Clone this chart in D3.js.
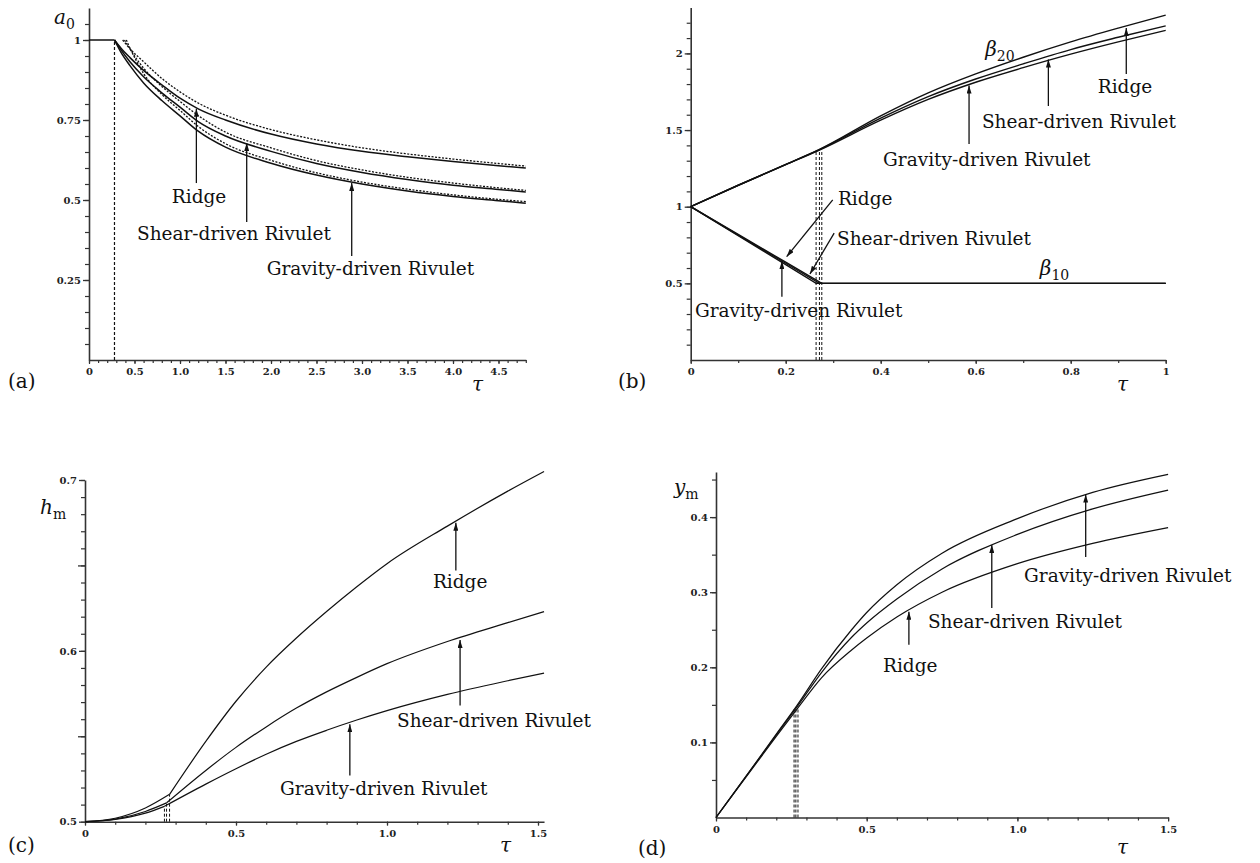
<!DOCTYPE html>
<meta charset="utf-8">
<title>Ridge and rivulet evolution</title>
<script src="https://d3js.org/d3.v7.min.js"></script>
<style>
body { margin: 0; background: #fff; }
text { font-family: "DejaVu Serif", serif; fill: #111; }
.tick text { font-size: 10px; font-weight: bold; font-family: "DejaVu Serif", serif; fill: #222; }
.note { font-size: 18.5px; }
.math { font-style: italic; font-size: 20px; }
.plab { font-size: 20px; }
.axis path, .axis line { stroke: #333; }
</style>
<body>
<svg id="fig" width="1260" height="863"></svg>
<script>
// ---------- values ----------

// (a) a0 against tau: solid curves and dashed curves
var tauAFlat = [0, 0.28];
var a0Flat = [1, 1];
var tauA = [0.28, 0.35, 0.45, 0.6, 0.8, 1.0, 1.2, 1.5, 2.0, 2.5, 3.0, 3.5, 4.0, 4.5, 4.8];
var a0Ridge   = [1, 0.975, 0.945, 0.905, 0.86, 0.818, 0.785, 0.750, 0.706, 0.675, 0.652, 0.635, 0.620, 0.607, 0.600];
var a0Shear   = [1, 0.970, 0.932, 0.885, 0.835, 0.790, 0.745, 0.700, 0.652, 0.614, 0.586, 0.564, 0.546, 0.533, 0.525];
var a0Gravity = [1, 0.962, 0.920, 0.866, 0.811, 0.763, 0.715, 0.665, 0.615, 0.578, 0.550, 0.528, 0.511, 0.498, 0.490];
var tauAd = [0.45, 0.6, 0.8, 1.0, 1.2, 1.5, 2.0, 2.5, 3.0, 3.5, 4.0, 4.5, 4.8];
var startRidgeD = 0.37, startShearD = 0.39, startGravityD = 0.41;
var a0RidgeD   = [0.973, 0.932, 0.880, 0.838, 0.803, 0.765, 0.720, 0.688, 0.663, 0.644, 0.628, 0.614, 0.606];
var a0ShearD   = [0.972, 0.912, 0.855, 0.808, 0.764, 0.712, 0.663, 0.623, 0.594, 0.571, 0.553, 0.538, 0.530];
var a0GravityD = [0.975, 0.895, 0.830, 0.780, 0.730, 0.676, 0.624, 0.585, 0.556, 0.534, 0.516, 0.502, 0.495];
var tauAVert = 0.28;

// (b) beta20 (upper) and beta10 (lower) against tau
var tauB = [0, 0.1, 0.2, 0.27, 0.4, 0.5, 0.6, 0.7, 0.8, 0.9, 1.0];
var b20Ridge   = [1, 1.140, 1.276, 1.372, 1.592, 1.742, 1.866, 1.975, 2.075, 2.165, 2.25];
var b20Shear   = [1, 1.140, 1.275, 1.370, 1.578, 1.718, 1.833, 1.932, 2.025, 2.105, 2.18];
var b20Gravity = [1, 1.139, 1.274, 1.368, 1.565, 1.700, 1.812, 1.907, 1.995, 2.075, 2.15];
var tauB10Ridge = [0, 0.1, 0.2, 0.276, 1.0];
var tauB10Shear = [0, 0.1, 0.2, 0.271, 1.0];
var tauB10Gravity = [0, 0.1, 0.2, 0.264, 1.0];
var b10Ridge   = [1, 0.819, 0.638, 0.5, 0.5];
var b10Shear   = [1, 0.815, 0.631, 0.5, 0.5];
var b10Gravity = [1, 0.811, 0.622, 0.5, 0.5];
var tauBVert = [0.264, 0.271, 0.276];
var bVertTop = 1.37;

// (c) h_m against tau (kink at the switch time)
var tauCRidge   = [0, 0.1, 0.2, 0.28, 0.4, 0.5, 0.6, 0.7, 0.8, 0.9, 1.0, 1.2, 1.4, 1.52];
var tauCShear   = [0, 0.1, 0.2, 0.27, 0.4, 0.5, 0.6, 0.7, 0.8, 0.9, 1.0, 1.2, 1.4, 1.52];
var tauCGravity = [0, 0.1, 0.2, 0.263, 0.4, 0.5, 0.6, 0.7, 0.8, 0.9, 1.0, 1.2, 1.4, 1.52];
var hRidge   = [0.5, 0.502, 0.508, 0.516, 0.547, 0.5705, 0.5905, 0.6075, 0.623, 0.6375, 0.651, 0.673, 0.6935, 0.705];
var hShear   = [0.5, 0.5015, 0.506, 0.511, 0.530, 0.5435, 0.5555, 0.5665, 0.576, 0.5845, 0.5925, 0.6055, 0.6165, 0.623];
var hGravity = [0.5, 0.5013, 0.505, 0.509, 0.522, 0.531, 0.5395, 0.547, 0.5535, 0.5595, 0.565, 0.5745, 0.5825, 0.587];
var kinkC = 3;

// (d) y_m against tau
var tauD = [0, 0.1, 0.2, 0.27, 0.35, 0.45, 0.5, 0.6, 0.75, 1.0, 1.25, 1.5];
var ymGravity = [0, 0.055, 0.111, 0.150, 0.198, 0.250, 0.273, 0.310, 0.352, 0.398, 0.433, 0.457];
var ymShear   = [0, 0.055, 0.110, 0.148, 0.193, 0.240, 0.259, 0.291, 0.331, 0.377, 0.411, 0.436];
var ymRidge   = [0, 0.054, 0.108, 0.145, 0.186, 0.223, 0.239, 0.267, 0.300, 0.338, 0.365, 0.386];
var tauDVert = [0.259, 0.265, 0.272];
var dVertTop = 0.145;

// ---------- drawing ----------
var svg = d3.select("#fig");

svg.append("defs").append("marker")
    .attr("id", "head")
    .attr("markerUnits", "userSpaceOnUse")
    .attr("markerWidth", 9).attr("markerHeight", 5)
    .attr("refX", 8).attr("refY", 2.5)
    .attr("orient", "auto")
  .append("path")
    .attr("d", "M0,0 L8,2.5 L0,5 Z")
    .attr("fill", "#111");

function makePanel(xDom, xRange, yDom, yRange) {
  return {
    x: d3.scaleLinear().domain(xDom).range(xRange),
    y: d3.scaleLinear().domain(yDom).range(yRange),
    g: svg.append("g")
  };
}

var pa = makePanel([0, 4.8], [89, 89 + 4.8 * 91], [0, 1.1], [360, 360 - 1.1 * 320]);
var pb = makePanel([0, 1], [690.7, 1165.7], [0, 2.3], [360, 360 - 2.3 * 153.3]);
var pc = makePanel([0, 1.52], [85, 85 + 1.52 * 302], [0.5, 0.7], [821.7, 480]);
var pd = makePanel([0, 1.5], [716, 716 + 1.5 * 301.4], [0, 0.46], [817.5, 817.5 - 0.46 * 751]);

function range(a, b, step) {
  var out = [];
  for (var v = a; v <= b + 1e-9; v += step) out.push(+v.toFixed(4));
  return out;
}

function axes(p, xMinor, xMajor, xFmt, yMinor, yMajor, yFmt, yMid) {
  var y0 = p.y.range()[0], x0 = p.x.range()[0];
  p.g.append("g").attr("class", "axis")
      .attr("transform", "translate(0," + y0 + ")")
      .call(d3.axisBottom(p.x).tickValues(xMinor).tickSize(3).tickSizeOuter(0).tickFormat(""))
      .call(function(g) { g.select(".domain").attr("stroke-width", 1.6); g.selectAll("line").attr("stroke-width", 1.2); });
  p.g.append("g").attr("class", "axis")
      .attr("transform", "translate(0," + y0 + ")")
      .call(d3.axisBottom(p.x).tickValues(xMajor).tickSize(4).tickPadding(4).tickFormat(xFmt))
      .call(function(g) { g.select(".domain").remove(); g.selectAll("line").attr("stroke-width", 1.2); });
  p.g.append("g").attr("class", "axis")
      .attr("transform", "translate(" + x0 + ",0)")
      .call(d3.axisLeft(p.y).tickValues(yMinor).tickSize(4).tickSizeOuter(0).tickFormat(""))
      .call(function(g) { g.select(".domain").attr("stroke-width", 1.6); g.selectAll("line").attr("stroke-width", 1.2); });
  if (yMid) {
    p.g.append("g").attr("class", "axis")
        .attr("transform", "translate(" + x0 + ",0)")
        .call(d3.axisLeft(p.y).tickValues(yMid).tickSize(7).tickFormat(""))
        .call(function(g) { g.select(".domain").remove(); g.selectAll("line").attr("stroke-width", 1.3); });
  }
  p.g.append("g").attr("class", "axis")
      .attr("transform", "translate(" + x0 + ",0)")
      .call(d3.axisLeft(p.y).tickValues(yMajor).tickSize(6).tickPadding(2).tickFormat(yFmt))
      .call(function(g) { g.select(".domain").remove(); g.selectAll("line").attr("stroke-width", 1.3); });
}

function curve(p, xs, ys, opts) {
  opts = opts || {};
  var pts = xs.map(function(v, i) { return [v, ys[i]]; });
  var line = d3.line()
      .x(function(d) { return p.x(d[0]); })
      .y(function(d) { return p.y(d[1]); })
      .curve(opts.straight ? d3.curveLinear : d3.curveMonotoneX);
  p.g.append("path")
      .attr("d", line(pts))
      .attr("fill", "none")
      .attr("stroke", "#111")
      .attr("stroke-width", opts.w || 1.4)
      .attr("stroke-dasharray", opts.dash || null);
}

function vline(p, t, v0, v1, w) {
  p.g.append("line")
      .attr("x1", p.x(t)).attr("x2", p.x(t))
      .attr("y1", p.y(v0)).attr("y2", p.y(v1))
      .attr("stroke", "#111").attr("stroke-width", w || 1.2)
      .attr("stroke-dasharray", "3,2");
}

function arrow(p, t0, v0, t1, v1) {
  p.g.append("line")
      .attr("x1", p.x(t0)).attr("y1", p.y(v0))
      .attr("x2", p.x(t1)).attr("y2", p.y(v1))
      .attr("stroke", "#111").attr("stroke-width", 1.3)
      .attr("marker-end", "url(#head)");
}

function note(p, t, v, s) {
  p.g.append("text").attr("class", "note")
      .attr("x", p.x(t)).attr("y", p.y(v)).text(s);
}

function mathLabel(x, y, main, sub) {
  var t = svg.append("text").attr("x", x).attr("y", y);
  t.append("tspan").attr("class", "math").text(main);
  if (sub) t.append("tspan").attr("dy", 5).attr("font-size", 14).text(sub);
}

function panelLabel(x, y, s) {
  svg.append("text").attr("class", "plab").attr("x", x).attr("y", y).text(s);
}

// ---- (a) ----
var fmt1 = function(d) { return d === 0 ? "0" : d3.format(".1f")(d); };
axes(pa, range(0, 4.8, 0.1), range(0, 4.5, 0.5), fmt1,
     range(0.05, 1.05, 0.05), [0.25, 0.5, 0.75, 1], function(d) { return String(d); });
curve(pa, tauAFlat, a0Flat, { straight: true, w: 1.5 });
curve(pa, tauA, a0Ridge, { w: 1.5 });
curve(pa, tauA, a0Shear, { w: 1.5 });
curve(pa, tauA, a0Gravity, { w: 1.5 });
curve(pa, [startRidgeD].concat(tauAd), [1].concat(a0RidgeD), { w: 1.3, dash: "2,1.5" });
curve(pa, [startShearD].concat(tauAd), [1].concat(a0ShearD), { w: 1.3, dash: "2,1.5" });
curve(pa, [startGravityD].concat(tauAd), [1].concat(a0GravityD), { w: 1.3, dash: "2,1.5" });
vline(pa, tauAVert, 0, 1);
arrow(pa, 1.18, 0.553, 1.18, 0.785);
note(pa, 0.91, 0.49, "Ridge");
arrow(pa, 1.733, 0.431, 1.733, 0.678);
note(pa, 0.527, 0.375, "Shear-driven Rivulet");
arrow(pa, 2.887, 0.325, 2.887, 0.553);
note(pa, 1.953, 0.266, "Gravity-driven Rivulet");
mathLabel(54, 24, "a", "0");
mathLabel(472, 391, "τ");
panelLabel(8, 388, "(a)");

// ---- (b) ----
axes(pb, range(0, 1, 0.1), [0, 0.2, 0.4, 0.6, 0.8, 1], function(d) { return String(d); },
     range(0.1, 2.2, 0.1), [0.5, 1, 1.5, 2], function(d) { return String(d); });
curve(pb, tauB, b20Ridge);
curve(pb, tauB, b20Shear);
curve(pb, tauB, b20Gravity);
curve(pb, tauB10Ridge, b10Ridge, { straight: true });
curve(pb, tauB10Shear, b10Shear, { straight: true });
curve(pb, tauB10Gravity, b10Gravity, { straight: true });
tauBVert.forEach(function(t) { vline(pb, t, 0, bVertTop, 1); });
arrow(pb, 0.917, 1.866, 0.917, 2.165);
note(pb, 0.857, 1.742, "Ridge");
arrow(pb, 0.753, 1.657, 0.753, 1.96);
note(pb, 0.613, 1.513, "Shear-driven Rivulet");
arrow(pb, 0.586, 1.409, 0.586, 1.79);
note(pb, 0.405, 1.267, "Gravity-driven Rivulet");
arrow(pb, 0.299, 1.044, 0.202, 0.674);
note(pb, 0.31, 1.011, "Ridge");
arrow(pb, 0.302, 0.828, 0.251, 0.561);
note(pb, 0.308, 0.75, "Shear-driven Rivulet");
arrow(pb, 0.192, 0.413, 0.192, 0.645);
note(pb, 0.009, 0.282, "Gravity-driven Rivulet");
mathLabel(pb.x(0.62), pb.y(1.98), "β", "20");
mathLabel(pb.x(0.735), pb.y(0.556), "β", "10");
mathLabel(1117, 391, "τ");
panelLabel(618, 388, "(b)");

// ---- (c) ----
axes(pc, range(0, 1.5, 0.1), [0, 0.5, 1.0, 1.5], fmt1,
     range(0.5, 0.7, 0.01), [0.5, 0.6, 0.7], function(d) { return String(d); }, [0.55, 0.65]);
[[tauCRidge, hRidge], [tauCShear, hShear], [tauCGravity, hGravity]].forEach(function(c) {
  curve(pc, c[0].slice(0, kinkC + 1), c[1].slice(0, kinkC + 1), { w: 1.2 });
  curve(pc, c[0].slice(kinkC), c[1].slice(kinkC), { w: 1.2 });
  vline(pc, c[0][kinkC], 0.5, c[1][kinkC], 1);
});
arrow(pc, 1.228, 0.647, 1.228, 0.675);
note(pc, 1.152, 0.637, "Ridge");
arrow(pc, 1.242, 0.568, 1.242, 0.6064);
note(pc, 1.033, 0.5555, "Shear-driven Rivulet");
arrow(pc, 0.877, 0.527, 0.877, 0.557);
note(pc, 0.646, 0.5157, "Gravity-driven Rivulet");
mathLabel(40, 514, "h", "m");
mathLabel(500, 852, "τ");
panelLabel(8, 852, "(c)");

// ---- (d) ----
axes(pd, range(0, 1.5, 0.1), [0, 0.5, 1.0, 1.5], fmt1,
     range(0.05, 0.45, 0.05), [0.1, 0.2, 0.3, 0.4], function(d) { return String(d); });
curve(pd, tauD, ymGravity, { w: 1.2 });
curve(pd, tauD, ymShear, { w: 1.2 });
curve(pd, tauD, ymRidge, { w: 1.2 });
tauDVert.forEach(function(t) { vline(pd, t, 0, dVertTop, 1); });
arrow(pd, 1.2266, 0.347, 1.2266, 0.43);
note(pd, 1.022, 0.314, "Gravity-driven Rivulet");
arrow(pd, 0.915, 0.279, 0.915, 0.363);
note(pd, 0.703, 0.252, "Shear-driven Rivulet");
arrow(pd, 0.640, 0.230, 0.640, 0.274);
note(pd, 0.554, 0.194, "Ridge");
mathLabel(674, 494, "y", "m");
mathLabel(1117, 854, "τ");
panelLabel(638, 855, "(d)");
</script>
</body>
